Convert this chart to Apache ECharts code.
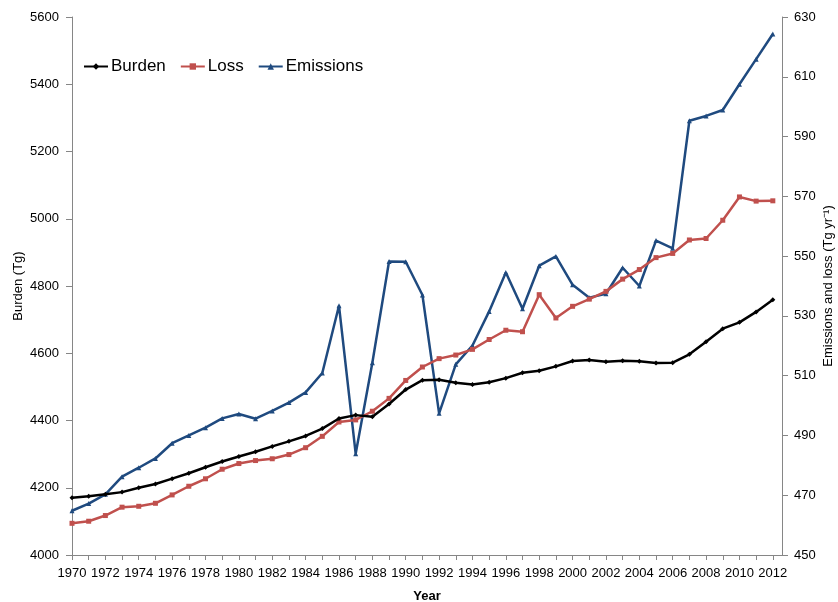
<!DOCTYPE html>
<html>
<head>
<meta charset="utf-8">
<script src="https://cdn.jsdelivr.net/npm/echarts@6/dist/echarts.min.js"></script>
<style>
  html, body { margin: 0; padding: 0; background: #fff; }
  #chart { width: 838px; height: 602px; }
</style>
</head>
<body>
<div id="chart"></div>
<script>
// Atmospheric burden (Tg) and annual emissions / loss (Tg yr-1), 1970-2012
const years = [1970,1971,1972,1973,1974,1975,1976,1977,1978,1979,1980,1981,1982,1983,1984,1985,1986,1987,1988,1989,1990,1991,1992,1993,1994,1995,1996,1997,1998,1999,2000,2001,2002,2003,2004,2005,2006,2007,2008,2009,2010,2011,2012];

const burden = [4170,4175,4181,4187,4200,4211,4227,4243,4261,4278,4293,4307,4323,4338,4354,4376,4406,4416,4411,4449,4492,4520,4521,4512,4507,4514,4526,4542,4548,4561,4577,4580,4575,4578,4576,4571,4572,4597,4634,4673,4692,4723,4759];

const loss = [460.6,461.3,463.2,466.0,466.3,467.3,470.1,473.0,475.5,478.7,480.6,481.6,482.2,483.6,485.9,489.7,494.5,495.2,498.1,502.4,508.4,512.9,515.7,516.9,518.8,522.1,525.2,524.7,537.1,529.3,533.2,535.6,538.2,542.3,545.5,549.5,550.9,555.4,555.9,562.0,569.8,568.4,568.5];

const emissions = [464.8,467.2,470.3,476.2,479.2,482.3,487.4,490.0,492.6,495.7,497.2,495.6,498.2,501.0,504.4,510.9,533.4,483.9,514.3,548.2,548.1,537.0,497.4,513.8,520.1,531.5,544.5,532.4,546.8,549.9,540.4,536.1,537.4,546.1,540.0,555.2,552.6,595.3,596.9,598.9,607.5,615.9,624.3];

const leftTitle = 'Burden (Tg)';
const rightTitle = 'Emissions and loss (Tg yr\u207B\u00B9)';

const FONT = 'Liberation Sans';
const AXIS_GREY = '#868686';

function pairs(vals) {
  return years.map((y, i) => [y, vals[i]]);
}

// vertical axis title, reading bottom to top
function sideTitle(text, x) {
  return {
    type: 'text',
    x: x,
    y: 286,
    rotation: Math.PI / 2,
    silent: true,
    style: {
      text: text,
      x: 0,
      y: 0,
      align: 'center',
      verticalAlign: 'middle',
      font: '13px "Liberation Sans"',
      fill: '#000'
    }
  };
}

const chart = echarts.init(document.getElementById('chart'), null, { renderer: 'canvas' });

chart.setOption({
  animation: false,
  backgroundColor: '#ffffff',
  textStyle: { fontFamily: FONT, color: '#000' },
  grid: { left: 72, right: 56, top: 17, bottom: 47, containLabel: false, outerBoundsMode: 'none' },
  graphic: [sideTitle(leftTitle, 18), sideTitle(rightTitle, 828)],
  legend: {
    left: 78,
    top: 53,
    itemWidth: 24,
    itemHeight: 8,
    itemGap: 14,
    textStyle: { fontFamily: FONT, fontSize: 17, color: '#000', padding: [0, 0, 0, -2] },
    data: ['Burden', 'Loss', 'Emissions']
  },
  xAxis: {
    type: 'value',
    min: 1970,
    max: 2012.55,
    interval: 1,
    name: 'Year',
    nameLocation: 'middle',
    nameGap: 35,
    nameTextStyle: { fontFamily: FONT, fontSize: 13, fontWeight: 'bold', color: '#000' },
    axisLine: { show: true, lineStyle: { color: AXIS_GREY, width: 1 } },
    axisTick: { show: true, length: 5, lineStyle: { color: AXIS_GREY } },
    axisLabel: {
      showMaxLabel: false,
      fontSize: 13,
      color: '#000',
      margin: 12,
      formatter: v => (Number.isInteger(v) && v % 2 === 0) ? String(v) : ''
    },
    splitLine: { show: false }
  },
  yAxis: [
    {
      type: 'value',
      min: 4000,
      max: 5600,
      interval: 200,
      position: 'left',
      axisLine: { show: true, lineStyle: { color: AXIS_GREY } },
      axisTick: { show: true, length: 6, lineStyle: { color: AXIS_GREY } },
      axisLabel: { fontSize: 13, color: '#000', margin: 13, formatter: v => String(v) },
      splitLine: { show: false }
    },
    {
      type: 'value',
      min: 450,
      max: 630,
      interval: 20,
      position: 'right',
      axisLine: { show: true, lineStyle: { color: AXIS_GREY } },
      axisTick: { show: true, length: 6, lineStyle: { color: AXIS_GREY } },
      axisLabel: { fontSize: 13, color: '#000', margin: 12 },
      splitLine: { show: false }
    }
  ],
  series: [
    {
      name: 'Burden',
      type: 'line',
      yAxisIndex: 0,
      data: pairs(burden),
      color: '#000000',
      lineStyle: { width: 2.5, color: '#000000' },
      symbol: 'diamond',
      symbolSize: 5,
      itemStyle: { color: '#000000' },
      z: 3
    },
    {
      name: 'Loss',
      type: 'line',
      yAxisIndex: 1,
      data: pairs(loss),
      color: '#c0504d',
      lineStyle: { width: 2.5, color: '#c0504d' },
      symbol: 'rect',
      symbolSize: 5,
      itemStyle: { color: '#c0504d' },
      z: 2
    },
    {
      name: 'Emissions',
      type: 'line',
      yAxisIndex: 1,
      data: pairs(emissions),
      color: '#1f4a7f',
      lineStyle: { width: 2.5, color: '#1f4a7f' },
      symbol: 'triangle',
      symbolSize: 5,
      itemStyle: { color: '#1f4a7f' },
      z: 1
    }
  ]
});
</script>
</body>
</html>
